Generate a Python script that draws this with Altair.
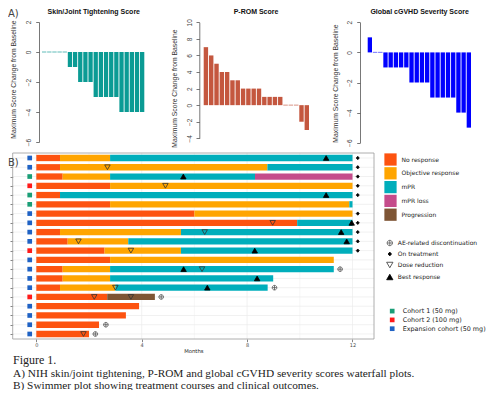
import altair as alt
import pandas as pd

# ---------------- Panel A data (max score change from baseline, one bar per patient) ----------------
patient_idx = list(range(1, 21))
skin_vals = [0, 0, 0, 0, 0, -1, -1, -2, -2, -2, -3, -3, -3, -3, -3, -4, -4, -4, -4, -4]
prom_vals = [7, 6, 5, 4, 4, 3, 3, 2, 2, 2, 2, 1, 1, 1, 1, 0, 0, 0, -2, -3]
glob_vals = [1, 0, 0, -1, -1, -1, -1, -1, -2, -2, -2, -2, -3, -3, -3, -3, -3, -4, -4, -5]
skin_ticks = [-6, -4, -2, 0, 2]
prom_ticks = [-4, -2, 0, 2, 4, 6, 8, 10]
glob_ticks = [-6, -4, -2, 0, 2]

# ---------------- Panel B data (swimmer plot) ----------------
E, C1, C2 = "Expansion cohort (50 mg)", "Cohort 1 (50 mg)", "Cohort 2 (100 mg)"
swim_rows = list(range(1, 21))
row_cohort = [E, E, C1, C2, C1, C1, E, E, E, E, C2, E, E, E, E, C2, E, E, E, E]

NR, OR, MPR, LOSS, PROG = "No response", "Objective response", "mPR", "mPR loss", "Progression"
seg_row = [1, 1, 1, 2, 2, 2, 3, 3, 3, 3, 4, 4, 5, 5, 6, 6, 6, 7, 7, 8, 8, 9, 9, 9,
           10, 10, 10, 11, 11, 11, 12, 12, 13, 13, 13, 14, 14, 14, 15, 15, 15, 16, 16, 17, 18, 19, 20]
seg_start = [0, 0.9, 2.8, 0, 0.9, 8.77, 0, 1.0, 2.8, 8.3, 0, 2.8, 0, 0.9, 0, 2.8, 11.88, 0, 6.0, 0, 9.9,
             0, 0.9, 5.49, 0, 1.19, 3.49, 0, 2.59, 5.49, 0, 2.8, 0, 1.0, 2.8, 0, 1.0, 2.8, 0, 0.9, 3.0,
             0, 2.69, 0, 0, 0, 0]
seg_end = [0.9, 2.8, 12.0, 0.9, 8.77, 12.0, 1.0, 2.8, 8.3, 12.0, 2.8, 12.0, 0.9, 12.0, 2.8, 11.88, 12.0,
           6.0, 12.0, 9.9, 12.0, 0.9, 5.49, 12.0, 1.19, 3.49, 12.0, 2.59, 5.49, 12.0, 2.8, 11.29,
           1.0, 2.8, 11.29, 1.0, 2.8, 8.99, 0.9, 3.0, 8.78, 2.69, 4.5, 3.9, 3.4, 2.38, 2.0]
seg_status = [NR, OR, MPR, NR, OR, MPR, NR, OR, MPR, LOSS, NR, OR, NR, MPR, NR, OR, MPR, NR, OR, NR, MPR,
              NR, OR, MPR, NR, OR, MPR, NR, OR, MPR, NR, OR, NR, OR, MPR, NR, OR, MPR, NR, OR, MPR,
              NR, PROG, NR, NR, NR, NR]

AE, ON, DR, BR = "AE-related discontinuation", "On treatment", "Dose reduction", "Best response"
ev_row = [1, 1, 2, 2, 3, 3, 4, 4, 5, 5, 7, 8, 8, 8, 9, 9, 9, 10, 10, 10, 11, 11, 11,
          13, 13, 13, 14, 15, 15, 15, 16, 16, 16, 19, 20, 20]
ev_time = [11.0, 12.2, 2.7, 12.2, 5.58, 12.2, 4.9, 12.2, 11.0, 12.2, 12.2, 8.97, 11.97, 12.2,
           6.39, 11.57, 12.2, 1.6, 11.78, 12.2, 3.59, 8.29, 12.2, 5.59, 6.29, 11.53, 8.38,
           3.0, 6.49, 9.04, 2.2, 3.59, 4.74, 2.64, 1.79, 2.24]
ev_type = [BR, ON, DR, ON, BR, ON, DR, ON, BR, ON, ON, DR, BR, ON, DR, BR, ON, DR, BR, ON, DR, BR, ON,
           BR, DR, AE, BR, DR, BR, AE, DR, DR, AE, AE, DR, AE]

grid_months = [0, 2, 4, 6, 8, 10, 12]
month_ticks = [0, 4, 8, 12]

status_dom = [NR, OR, MPR, LOSS, PROG]
status_col = ["#FD5310", "#FFA500", "#00AEBB", "#C54C8B", "#7E5535"]
cohort_dom = [C1, C2, E]
cohort_col = ["#1A9E77", "#FF1A1A", "#1F62C4"]
ev_dom = [AE, ON, DR, BR]
circle_plus = "M-0.85,0A0.85,0.85,0,1,1,0.85,0A0.85,0.85,0,1,1,-0.85,0ZM-0.85,0L0.85,0M0,-0.85L0,0.85"
diamond_small = "M0,-0.6L0.55,0L0,0.6L-0.55,0Z"
ev_shape = [circle_plus, diamond_small, "triangle-down", "triangle-up"]
ev_fill = ["transparent", "#000000", "transparent", "#000000"]
ev_stroke = ["#555555", "#000000", "#333333", "#000000"]

one = pd.DataFrame({"k": [0]})

# ---------------- Panel A charts ----------------
def waterfall(vals, color, xr, ydom, yr, ticks, offset, tx, ty):
    df = pd.DataFrame({"i": patient_idx, "v": vals})
    ax = alt.Axis(orient="left", offset=offset, values=ticks, format="d", grid=False,
                  title="Maximum Score Change from Baseline",
                  tickSize=3.3, tickColor="#555555", tickWidth=0.8,
                  domainColor="#555555", domainWidth=0.8,
                  labelAngle=270, labelAlign="center", labelBaseline="alphabetic",
                  labelPadding=5, labelFontSize=6.5, labelColor="#444444",
                  labelFont="Liberation Sans", labelOverlap=False, labelFlush=False,
                  titleFont="Liberation Sans", titleFontSize=6.8, titleFontWeight="normal",
                  titleColor="#333333", titleAngle=270, titleAlign="center",
                  titleBaseline="middle", titleX=tx, titleY=ty)
    return alt.Chart(df).mark_bar(color=color, stroke=color).encode(
        x=alt.X("i:O", scale=alt.Scale(range=xr, paddingInner=0.17, paddingOuter=0), axis=None),
        y=alt.Y("v:Q", scale=alt.Scale(domain=ydom, range=yr, nice=False, zero=False), axis=ax),
        y2=alt.Y2(datum=0),
        opacity=alt.condition("datum.v == 0", alt.value(0.5), alt.value(1)),
        strokeWidth=alt.condition("datum.v == 0", alt.value(0.8), alt.value(0)),
    )

w1 = waterfall(skin_vals, "#0B9B94", [34, 136.3], [-6, 2], [134, 14], skin_ticks, -31, -25.7, 71)
w2 = waterfall(prom_vals, "#C4573F", [195.7, 301], [-4, 10], [130.3, 14.3], prom_ticks, -191.3, -25.3, 80)
w3 = waterfall(glob_vals, "#0000FF", [359.7, 463], [-6, 2], [134.7, 14.3], glob_ticks, -352, -25, 75)

def txt(s, x, y, size, font="Liberation Sans", weight="normal", align="left", color="#222222"):
    return alt.Chart(one).mark_text(align=align, baseline="alphabetic", font=font, fontSize=size,
                                    fontWeight=weight, color=color).encode(
        x=alt.value(x), y=alt.value(y), text=alt.value(s))

t1 = txt("Skin/Joint Tightening Score", 85.8, 5.5, 7, weight="bold", align="center", color="#111111")
t2 = txt("P-ROM Score", 248, 5.5, 7, weight="bold", align="center", color="#111111")
t3 = txt("Global cGVHD Severity Score", 411.6, 5.5, 7, weight="bold", align="center", color="#111111")
ta = txt("A)", 0, 9, 10, font="DejaVu Sans", color="#444444")
tb = txt("B)", 0, 157.5, 10, font="DejaVu Sans", color="#444444")
cap0 = txt("Figure 1.", 5, 356, 12, font="Liberation Serif")
cap1 = txt("A) NIH skin/joint tightening, P-ROM and global cGVHD severity scores waterfall plots.",
           5, 369, 11.3, font="Liberation Serif")
cap2 = txt("B) Swimmer plot showing treatment courses and clinical outcomes.",
           5, 381, 11.3, font="Liberation Serif")

# ---------------- Panel B charts ----------------
XMIN, XMAX = -0.896, 12.816
YMIN, YMAX = 0.46, 20.54
sx = alt.Scale(domain=[XMIN, XMAX], range=[4.7, 366], nice=False, zero=False)
sy = alt.Scale(domain=[YMIN, YMAX], range=[145, 331], nice=False, zero=False)

vgrid = alt.Chart(pd.DataFrame({"gx": grid_months})).mark_rule(color="#EBEBEB").encode(
    x=alt.X("gx:Q", scale=sx, axis=alt.Axis(orient="bottom", offset=-51, values=month_ticks, format="d",
                                            grid=False, domain=False, title="Months",
                                            tickSize=2.7, tickColor="#333333", tickWidth=0.6,
                                            labelFontSize=5, labelColor="#4D4D4D", labelPadding=0.8,
                                            labelFont="DejaVu Sans", labelFlush=False,
                                            titleFont="DejaVu Sans", titleFontSize=5.3,
                                            titleFontWeight="normal", titleColor="#222222",
                                            titlePadding=0.5)),
    y=alt.Y(datum=YMIN, scale=sy, axis=None),
    y2=alt.Y2(datum=YMAX),
    strokeWidth=alt.condition("datum.gx % 4 == 0", alt.value(0.7), alt.value(0.4)),
)

hgrid = alt.Chart(pd.DataFrame({"row": swim_rows})).mark_rule(color="#EBEBEB", strokeWidth=0.7).encode(
    y=alt.Y("row:Q", scale=sy, axis=alt.Axis(orient="left", offset=-4.7, values=swim_rows, labels=False,
                                             tickSize=2.7, tickColor="#333333", tickWidth=0.6,
                                             domain=False, grid=False, title=None)),
    x=alt.X(datum=XMIN, scale=sx, axis=None),
    x2=alt.X2(datum=XMAX),
)

frame = alt.Chart(one).mark_rect(fillOpacity=0, stroke="#9A9A9A", strokeWidth=0.8).encode(
    x=alt.X(datum=XMIN, scale=sx, axis=None), x2=alt.X2(datum=XMAX),
    y=alt.Y(datum=YMIN, scale=sy, axis=None), y2=alt.Y2(datum=YMAX),
)

seg_df = pd.DataFrame({"row": seg_row, "start": seg_start, "end": seg_end, "status": seg_status})
bars = alt.Chart(seg_df).transform_calculate(
    y0="datum.row - 0.34", y1="datum.row + 0.34"
).mark_rect().encode(
    x=alt.X("start:Q", scale=sx, axis=None), x2="end:Q",
    y=alt.Y("y0:Q", scale=sy, axis=None), y2="y1:Q",
    color=alt.Color("status:N", scale=alt.Scale(domain=status_dom, range=status_col),
                    legend=alt.Legend(orient="none", legendX=376, legendY=145, title=None,
                                      symbolType="square", symbolSize=150, symbolStrokeWidth=0,
                                      symbolOpacity=1, labelFont="DejaVu Sans", labelFontSize=6,
                                      labelColor="#222222", labelOffset=4.5, rowPadding=0.8, padding=0)),
)

coh_df = pd.DataFrame({"row": swim_rows, "cohort": row_cohort})
squares = alt.Chart(coh_df).mark_square(size=22, opacity=1).encode(
    x=alt.X(datum=-0.25, scale=sx, axis=None),
    y=alt.Y("row:Q", scale=sy, axis=None),
    color=alt.Color("cohort:N", scale=alt.Scale(domain=cohort_dom, range=cohort_col),
                    legend=alt.Legend(orient="none", legendX=380.7, legendY=299.6, title=None,
                                      symbolType="square", symbolSize=22, symbolOpacity=1,
                                      labelFont="DejaVu Sans", labelFontSize=6.4, labelColor="#222222",
                                      labelOffset=7, rowPadding=1.8, padding=0)),
)

ev_legend = alt.Legend(orient="none", legendX=377.8, legendY=231, title=None, symbolSize=40,
                       symbolStrokeWidth=0.8, labelFont="DejaVu Sans", labelFontSize=6,
                       labelColor="#222222", labelOffset=4, rowPadding=2.0, padding=0)
ev_df = pd.DataFrame({"row": ev_row, "t": ev_time, "event": ev_type})
events = alt.Chart(ev_df).mark_point(size=30, opacity=1, strokeWidth=0.8).encode(
    x=alt.X("t:Q", scale=sx, axis=None),
    y=alt.Y("row:Q", scale=sy, axis=None),
    shape=alt.Shape("event:N", scale=alt.Scale(domain=ev_dom, range=ev_shape), legend=ev_legend),
    fill=alt.Fill("event:N", scale=alt.Scale(domain=ev_dom, range=ev_fill), legend=ev_legend),
    stroke=alt.Stroke("event:N", scale=alt.Scale(domain=ev_dom, range=ev_stroke), legend=ev_legend),
)

chart = alt.layer(
    vgrid, hgrid, frame, bars, squares, events,
    w1, w2, w3, t1, t2, t3, ta, tb, cap0, cap1, cap2,
).resolve_scale(
    x="independent", y="independent", color="independent", fill="independent",
    stroke="independent", shape="independent", opacity="independent", strokeWidth="independent",
).properties(
    width=484, height=382, padding=0, autosize=alt.AutoSizeParams(type="none"),
).configure_view(stroke=None)

chart.save("out.html", embed_options={"renderer": "svg", "actions": False})
